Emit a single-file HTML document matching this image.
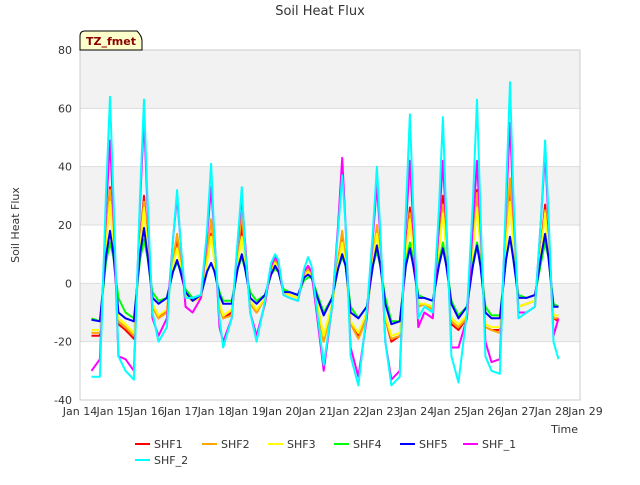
<!DOCTYPE html>
<html><head><meta charset="utf-8"><style>
body{margin:0;background:#fff;font-family:"Liberation Sans",sans-serif}
svg text{font-family:"DejaVu Sans","Liberation Sans",sans-serif}
</style></head><body>
<svg width="640" height="480" xmlns="http://www.w3.org/2000/svg">
<g id="bands"></g>
<g id="grid"></g>
<rect x="80" y="50" width="500" height="350" fill="none" stroke="#ccc"/>
<g id="series"></g>
<g id="axes"></g>
<text x="320" y="15" text-anchor="middle" font-size="13" fill="#333">Soil Heat Flux</text>
<text x="19" y="225" text-anchor="middle" font-size="11" fill="#333" transform="rotate(-90 19 225)">Soil Heat Flux</text>
<text x="578" y="433" text-anchor="end" font-size="11" fill="#333">Time</text>
<g>
<path d="M80,50 L80,36 Q80,31 85,31 L137,31 Q142,36 142,41 L142,50 Z" fill="#ffffcc" stroke="#000" stroke-width="1"/>
<text x="111" y="45" text-anchor="middle" font-size="11" font-weight="bold" fill="#8b0000">TZ_fmet</text>
</g>
<g id="legend"></g>
</svg>
<script>
const seriesNames=["SHF1","SHF2","SHF3","SHF4","SHF5","SHF_1","SHF_2"];
const seriesColors=["#ff0000","#ffa500","#ffff00","#00ff00","#0000ff","#ff00ff","#00ffff"];
const xTickLabels=["Jan 14","Jan 15","Jan 16","Jan 17","Jan 18","Jan 19","Jan 20","Jan 21","Jan 22","Jan 23","Jan 24","Jan 25","Jan 26","Jan 27","Jan 28","Jan 29"];
const yTicks=[-40,-20,0,20,40,60,80];
const times=[0.34,0.59,0.77,0.89,0.99,1.14,1.35,1.6,1.78,1.9,2.0,2.15,2.33,2.58,2.76,2.88,2.98,3.13,3.34,3.59,3.77,3.89,3.99,4.14,4.25,4.5,4.68,4.8,4.9,5.05,5.24,5.49,5.67,5.79,5.89,6.04,6.22,6.47,6.65,6.77,6.87,7.02,7.23,7.48,7.66,7.78,7.88,8.03,8.26,8.51,8.69,8.81,8.91,9.06,9.24,9.49,9.67,9.79,9.89,10.04,10.22,10.47,10.65,10.77,10.87,11.02,11.23,11.48,11.66,11.78,11.88,12.03,12.21,12.46,12.64,12.76,12.86,13.01,13.25,13.5,13.68,13.8,13.9,14.05,14.2];
const shf1=[-18,-18,15,33,15,-14, -16,-19,14,30,14,-8, -12,-9,8,15,8,-4, -6,-5,8,17,8,-8, -12,-10,8,20,8,-7, -10,-5,4,8,5,-3, -4,-5,2,4,3,-6, -20,-7,8,16,8,-14, -18,-10,8,18,8,-12, -20,-18,12,26,12,-8, -7,-9,12,30,12,-14, -16,-12,14,32,14,-15, -16,-16,14,32,14,-8, -7,-6,12,27,12,-12,-13];
const shf2=[-17,-17,15,32,15,-13, -15,-18,13,28,13,-8, -12,-10,8,17,8,-4, -6,-5,10,22,10,-8, -12,-11,11,24,11,-7, -10,-5,4,9,5,-3, -4,-5,2,5,3,-6, -20,-8,8,18,8,-14, -19,-12,9,20,9,-12, -19,-18,11,24,11,-8, -7,-9,12,27,12,-13, -15,-12,14,31,14,-15, -16,-17,16,36,16,-8, -7,-6,11,25,11,-12,-12];
const shf3=[-16,-16,13,28,13,-12, -14,-17,12,26,12,-7, -11,-9,6,12,6,-4, -6,-5,7,16,7,-7, -11,-9,7,16,7,-6, -9,-5,3,7,4,-3, -4,-5,2,4,3,-6, -18,-7,6,14,6,-13, -17,-10,8,17,8,-11, -18,-17,10,22,10,-7, -7,-8,11,24,11,-12, -14,-11,12,26,12,-14, -15,-15,13,28,13,-8, -7,-6,11,24,11,-11,-11];
const shf4=[-12,-13,7,14,9,-5, -10,-12,8,15,9,-3, -6,-5,4,7,5,-2, -5,-4,4,7,4,-3, -6,-6,5,9,5,-3, -6,-4,3,5,4,-2, -3,-4,1,2,2,-3, -10,-5,5,9,6,-8, -12,-8,6,11,6,-5, -13,-13,7,14,8,-4, -5,-6,7,14,7,-6, -11,-8,7,14,8,-8, -11,-11,8,16,9,-4, -5,-4,7,14,9,-7,-8];
const shf5=[-12.5,-13,9,18,10,-10, -12,-13,10,19,10,-5, -7,-5,4,8,4,-3, -6,-4,4,7,4,-4, -7,-7,5,10,5,-5, -7,-4,3,6,4,-3, -3,-4,2,3,2,-4, -11,-5,5,10,6,-10, -12,-8,6,13,6,-7, -14,-13,6,12,6,-5, -5,-6,6,12,6,-7, -12,-8,6,13,6,-10, -12,-12,8,16,8,-5, -5,-4,9,17,9,-8,-8];
const shf_1=[-30,-26,24,49,24,-25, -26,-30,27,57,27,-12, -18,-12,15,30,15,-8, -10,-5,16,33,16,-15, -20,-12,14,30,14,-10, -18,-7,6,9,7,-4, -5,-6,4,6,4,-10, -30,-8,20,43,20,-22, -32,-12,16,34,16,-20, -33,-30,20,42,20,-15, -10,-12,20,42,20,-22, -22,-12,20,42,20,-20, -27,-26,26,55,26,-10, -10,-8,22,45,22,-18,-12];
const shf_2=[-32,-32,30,64,30,-25, -30,-33,30,63,30,-10, -20,-15,15,32,15,-5, -5,-4,18,41,15,-12, -22,-12,15,33,12,-10, -20,-6,7,10,8,-4, -5,-6,5,9,6,-8, -28,-8,18,37,20,-25, -35,-10,18,40,18,-20, -35,-32,25,58,25,-12, -8,-10,25,57,22,-25, -34,-10,28,63,25,-25, -30,-31,30,69,30,-12, -10,-8,22,49,25,-20,-26];
const seriesData=[shf1,shf2,shf3,shf4,shf5,shf_1,shf_2];
const X0=80,X1=580,Y0=400,Y1=50,DAYPX=33.7;
const xs=d=>X0+d*DAYPX;
const ys=v=>Y0-(v+40)/120*(Y0-Y1);
const NS="http://www.w3.org/2000/svg";
function mk(tag,attrs,parent){const e=document.createElementNS(NS,tag);for(const k in attrs)e.setAttribute(k,attrs[k]);parent.appendChild(e);return e;}
const bands=document.getElementById('bands'),grid=document.getElementById('grid'),axes=document.getElementById('axes');
for(let i=0;i<yTicks.length-1;i++){
  if(i%2===1){const b=mk('rect',{x:X0,y:ys(yTicks[i+1]),width:X1-X0,height:ys(yTicks[i])-ys(yTicks[i+1]),fill:'#f2f2f2'},bands);
  
  }
}
yTicks.forEach(v=>{
  const l=mk('line',{x1:X0,x2:X1,y1:ys(v),y2:ys(v),stroke:'#ddd'},grid);
  
  
  const t=mk('text',{x:X0-8,y:ys(v)+4,'text-anchor':'end','font-size':11,fill:'#333'},axes);
  t.textContent=v;
  
  
});
xTickLabels.forEach((s,i)=>{
  const t=mk('text',{x:xs(i),y:415,'text-anchor':'middle','font-size':11,fill:'#333'},axes);
  t.textContent=s;
  
  
});
const sg=document.getElementById('series');
seriesData.forEach((arr,si)=>{
  const pts=arr.map((v,i)=>xs(times[i]).toFixed(1)+','+ys(v).toFixed(1)).join(' ');
  const p=mk('polyline',{points:pts,fill:'none',stroke:seriesColors[si],'stroke-width':2,'stroke-linejoin':'round'},sg);
  
  
});
const lg=document.getElementById('legend');
const legPos=[[135,444],[202,444],[268,444],[334,444],[400,444],[463,444],[135,460]];
seriesNames.forEach((n,i)=>{
  const [lx,ly]=legPos[i];
  const g=mk('g',{},lg);
  
  
  mk('line',{x1:lx,x2:lx+15,y1:ly,y2:ly,stroke:seriesColors[i],'stroke-width':2},g);
  const t=mk('text',{x:lx+19,y:ly+4,'font-size':11,fill:'#333'},g);
  t.textContent=n;
});
</script>
</body></html>
